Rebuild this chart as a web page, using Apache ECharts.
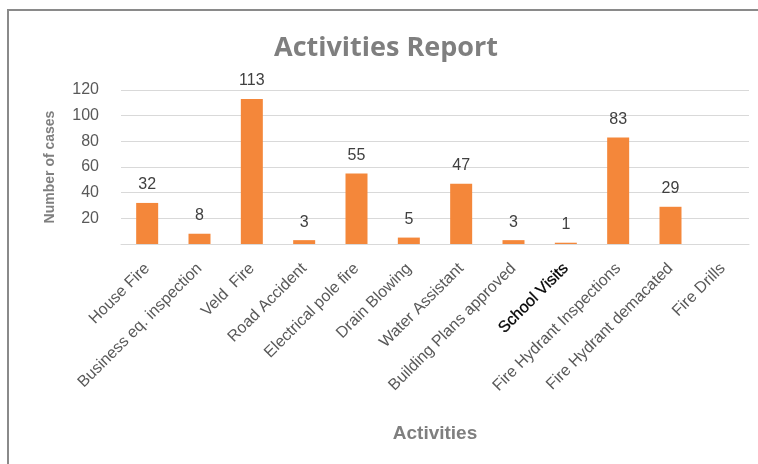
<!DOCTYPE html>
<html><head><meta charset="utf-8">
<script src="https://cdn.jsdelivr.net/npm/echarts@6/dist/echarts.min.js"></script>
<style>html,body{margin:0;padding:0;background:#fff}#c{width:758px;height:464px}</style>
</head><body><div id="c"></div>
<script>
const categories = ["House Fire","Business eq. inspection","Veld  Fire","Road Accident","Electrical pole fire","Drain Blowing","Water Assistant","Building Plans approved","School Visits","Fire Hydrant Inspections","Fire Hydrant demacated","Fire Drills"];
const values = [32, 8, 113, 3, 55, 5, 47, 3, 1, 83, 29, null];
const yTicks = [20, 40, 60, 80, 100, 120];

const chart = echarts.init(document.getElementById('c'), null, {renderer:'canvas'});
chart.setOption({
  animation:false,
  title:{text:'Activities Report', left:381, textAlign:'center', top:30,
    textStyle:{fontFamily:'Open Sans', fontWeight:'bold', fontSize:27, color:'#7f7f7f'}},
  graphic:[{type:'rect', shape:{x:8, y:10, width:800, height:500}, style:{fill:null, stroke:'#8a8a8a', lineWidth:2}}],
  grid:{left:121, right:9, top:90, bottom:220},
  xAxis:{type:'category', data:categories,
    name:'Activities', nameLocation:'middle', nameGap:180,
    nameTextStyle:{fontFamily:'Liberation Sans', fontWeight:'bold', fontSize:19, color:'#7f7f7f'},
    axisTick:{show:false},
    axisLine:{lineStyle:{color:'#d9d9d9'}},
    axisLabel:{interval:0, rotate:45, fontFamily:'Liberation Sans', fontSize:16, color:'#595959', margin:22,
      formatter:function(v){return v==='School Visits' ? '{b|'+v+'}' : v;},
      rich:{b:{color:'#000', fontFamily:'Liberation Sans', fontSize:16, textBorderColor:'#000', textBorderWidth:0.3}}}
  },
  yAxis:{type:'value', min:0, max:120, interval:20,
    name:'Number of cases', nameLocation:'middle', nameGap:64, nameRotate:90,
    nameTextStyle:{fontFamily:'Liberation Sans', fontWeight:'bold', fontSize:14, color:'#7f7f7f'},
    axisLine:{show:false}, axisTick:{show:false},
    splitLine:{lineStyle:{color:'#d9d9d9'}},
    axisLabel:{fontFamily:'Liberation Sans', fontSize:16, color:'#595959', margin:22,
      formatter:function(v){return yTicks.indexOf(v)>=0 ? String(v) : '';}}
  },
  series:[{type:'bar', data:values, barWidth:22,
    itemStyle:{color:'#F4873A'},
    label:{show:true, position:'top', distance:10, fontFamily:'Liberation Sans', fontSize:16, color:'#404040'}
  }]
});
</script></body></html>
